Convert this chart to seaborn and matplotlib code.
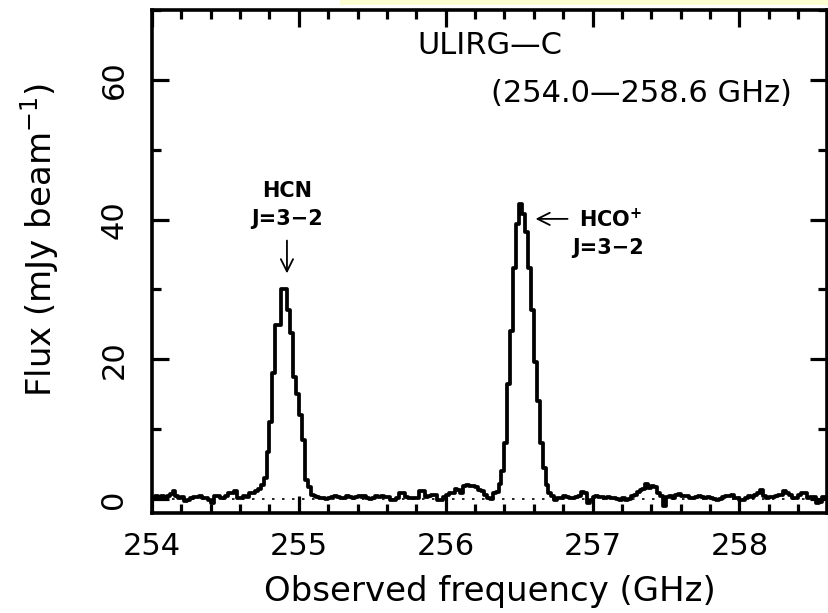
import numpy as np
import pandas as pd
import matplotlib
matplotlib.use("Agg")
import matplotlib.pyplot as plt
from matplotlib.patches import Rectangle
from matplotlib.ticker import MultipleLocator
import seaborn as sns

# Spectrometer grid: 230 channels of 20 MHz starting at 254.0 GHz
chan_start = 254.0
chan_width = 0.02

# Flux density per channel (mJy/beam)
flux = [
    0.1, 0.4, 0.3, 0.5, 0.3, 0.4, 0.7, 1.1, 0.5, 0.2,
    0.3, -0.3, -0.1, 0.1, 0.3, 0.3, 0.5, 0.1, 0.2, -0.2,
    -0.6, 0.4, 0.5, 0.2, 0.1, 0.4, 0.8, 0.9, 1.1, 0.2,
    0.1, 0.5, 0.3, 0.8, 0.9, 1.1, 1.5, 2.0, 3.0, 6.8,
    11.0, 18.0, 24.9, 24.9, 30.1, 30.0, 27.0, 23.7, 17.5, 15.0,
    12.0, 8.4, 2.7, 1.7, 0.6, 0.4, 0.3, 0.1, 0.1, 0.0,
    0.2, 0.3, 0.4, 0.3, 0.1, 0.2, 0.4, 0.3, 0.1, 0.3,
    0.4, 0.3, 0.4, 0.1, 0.0, 0.1, 0.5, 0.3, 0.4, 0.3,
    0.3, -0.2, -0.1, 0.2, 0.9, 0.8, 0.3, 0.2, 0.1, 0.1,
    0.2, 1.2, 1.1, 0.3, 0.4, 0.6, 0.6, -0.2, -0.1, 0.3,
    0.6, 0.8, 0.9, 1.4, 1.3, 0.8, 1.9, 2.0, 1.9, 1.8,
    1.7, 1.3, 1.2, 0.6, 0.1, 0.0, 0.8, 1.0, 2.2, 4.0,
    8.0, 16.5, 24.1, 33.0, 39.4, 42.2, 40.8, 38.2, 33.0, 27.0,
    19.6, 14.1, 8.0, 4.5, 2.0, 0.9, 0.5, -0.1, 0.1, 0.2,
    0.4, 0.3, 0.2, 0.1, 0.3, 0.4, 1.0, 0.9, -0.5, -0.2,
    0.3, 0.4, 0.3, 0.3, 0.2, 0.3, 0.2, 0.1, 0.0, -0.1,
    0.1, -0.2, 0.0, 0.4, 0.6, 1.0, 1.3, 1.5, 2.1, 1.6,
    1.8, 1.7, 0.8, 0.5, -1.0, 0.3, 0.4, 0.2, 0.6, 0.7,
    0.5, 0.4, 0.5, 0.2, 0.1, 0.3, 0.4, 0.3, 0.2, 0.3,
    0.1, 0.0, -0.1, 0.0, 0.3, 0.4, 0.5, 0.6, 0.2, 0.1,
    -0.1, -0.1, 0.2, 0.4, 0.3, 0.6, 0.8, 1.3, 0.4, 0.2,
    0.3, 0.3, 0.4, 0.6, 0.6, 1.2, 0.9, 0.6, 0.1, 0.2,
    0.6, 0.8, 0.9, 0.1, 0.3, 0.3, -0.6, -0.4, 0.3, 0.3,
]

x_ticks = [254, 255, 256, 257, 258]
y_ticks = [0, 20, 40, 60]
x_range = (254.0, 258.6)
y_range = (-2, 70)

freq = chan_start + chan_width * (np.arange(len(flux)) + 0.5)
spec = pd.DataFrame({"freq": freq, "flux": flux})

sns.set_theme(style="white")
plt.rcParams["font.family"] = ["DejaVu Sans"]
plt.rcParams["mathtext.fontset"] = "dejavusans"
for key in ("text.color", "axes.labelcolor", "xtick.color", "ytick.color",
            "axes.edgecolor"):
    plt.rcParams[key] = "black"

fig = plt.figure(figsize=(8.29, 6.13), dpi=100)
fig.patch.set_facecolor("white")
ax = fig.add_axes([152 / 829, 1 - 513 / 613, (827.5 - 152) / 829, (513 - 10) / 613])

# zero level
ax.plot(x_range, [0, 0], color="black", lw=1.2, ls=(0, (1.5, 4.5)), zorder=1)

sns.lineplot(data=spec, x="freq", y="flux", ax=ax, color="black", lw=2.7,
             drawstyle="steps-mid", estimator=None, zorder=3)

ax.set_xlim(*x_range)
ax.set_ylim(*y_range)
ax.set_xticks(x_ticks)
ax.set_yticks(y_ticks)
ax.xaxis.set_minor_locator(MultipleLocator(0.2))
ax.yaxis.set_minor_locator(MultipleLocator(10))

for s in ax.spines.values():
    s.set_visible(True)
    s.set_color("black")
    s.set_linewidth(2.6)

ax.tick_params(which="both", direction="in", top=True, right=True,
               bottom=True, left=True, color="black", width=2.3)
ax.tick_params(which="major", length=12.5)
ax.tick_params(which="minor", length=6.5)
ax.tick_params(axis="x", which="major", labelsize=22, pad=14)
ax.tick_params(axis="y", which="major", labelsize=22, pad=17)
for lab in ax.get_yticklabels():
    lab.set_rotation(90)
    lab.set_va("center")

ax.set_xlabel("Observed frequency (GHz)", fontsize=24.5, labelpad=10)
ax.set_ylabel("Flux (mJy beam$^{-1}$)", fontsize=24.5, va="center")
ax.yaxis.set_label_coords(-0.167, 0.543)

# source label and band coverage
ax.text(0.50, 0.930, "ULIRG\u2014C", transform=ax.transAxes, fontsize=22,
        ha="center", va="center")
ax.text(0.948, 0.834, "(254.0\u2014258.6 GHz)", transform=ax.transAxes, fontsize=22,
        ha="right", va="center")

# line identifications
lab_kw = dict(fontsize=15, fontweight="bold", va="center")
ax.text(254.919, 44.1, "HCN", ha="center", **lab_kw)
ax.text(254.919, 40.1, "J=3\u22122", ha="center", **lab_kw)
ax.annotate("", xy=(254.919, 32.3), xytext=(254.919, 37.0),
            arrowprops=dict(arrowstyle="->", lw=1.3, color="black", mutation_scale=22,
                            shrinkA=0, shrinkB=0))

ax.annotate("", xy=(256.612, 40.1), xytext=(256.83, 40.1),
            arrowprops=dict(arrowstyle="->", lw=1.3, color="black", mutation_scale=22,
                            shrinkA=0, shrinkB=0))
ax.text(256.905, 40.0, "HCO$^{\\mathbf{+}}$", ha="left", **lab_kw)
ax.text(256.862, 35.9, "J=3\u22122", ha="left", **lab_kw)

# pale highlight strip along the top edge
fig.patches.append(Rectangle((340 / 829, 1 - 5 / 613), 1, 5 / 613,
                             transform=fig.transFigure, facecolor="#fdfdd2",
                             edgecolor="none", zorder=0))

fig.savefig("out.png", dpi=100)
